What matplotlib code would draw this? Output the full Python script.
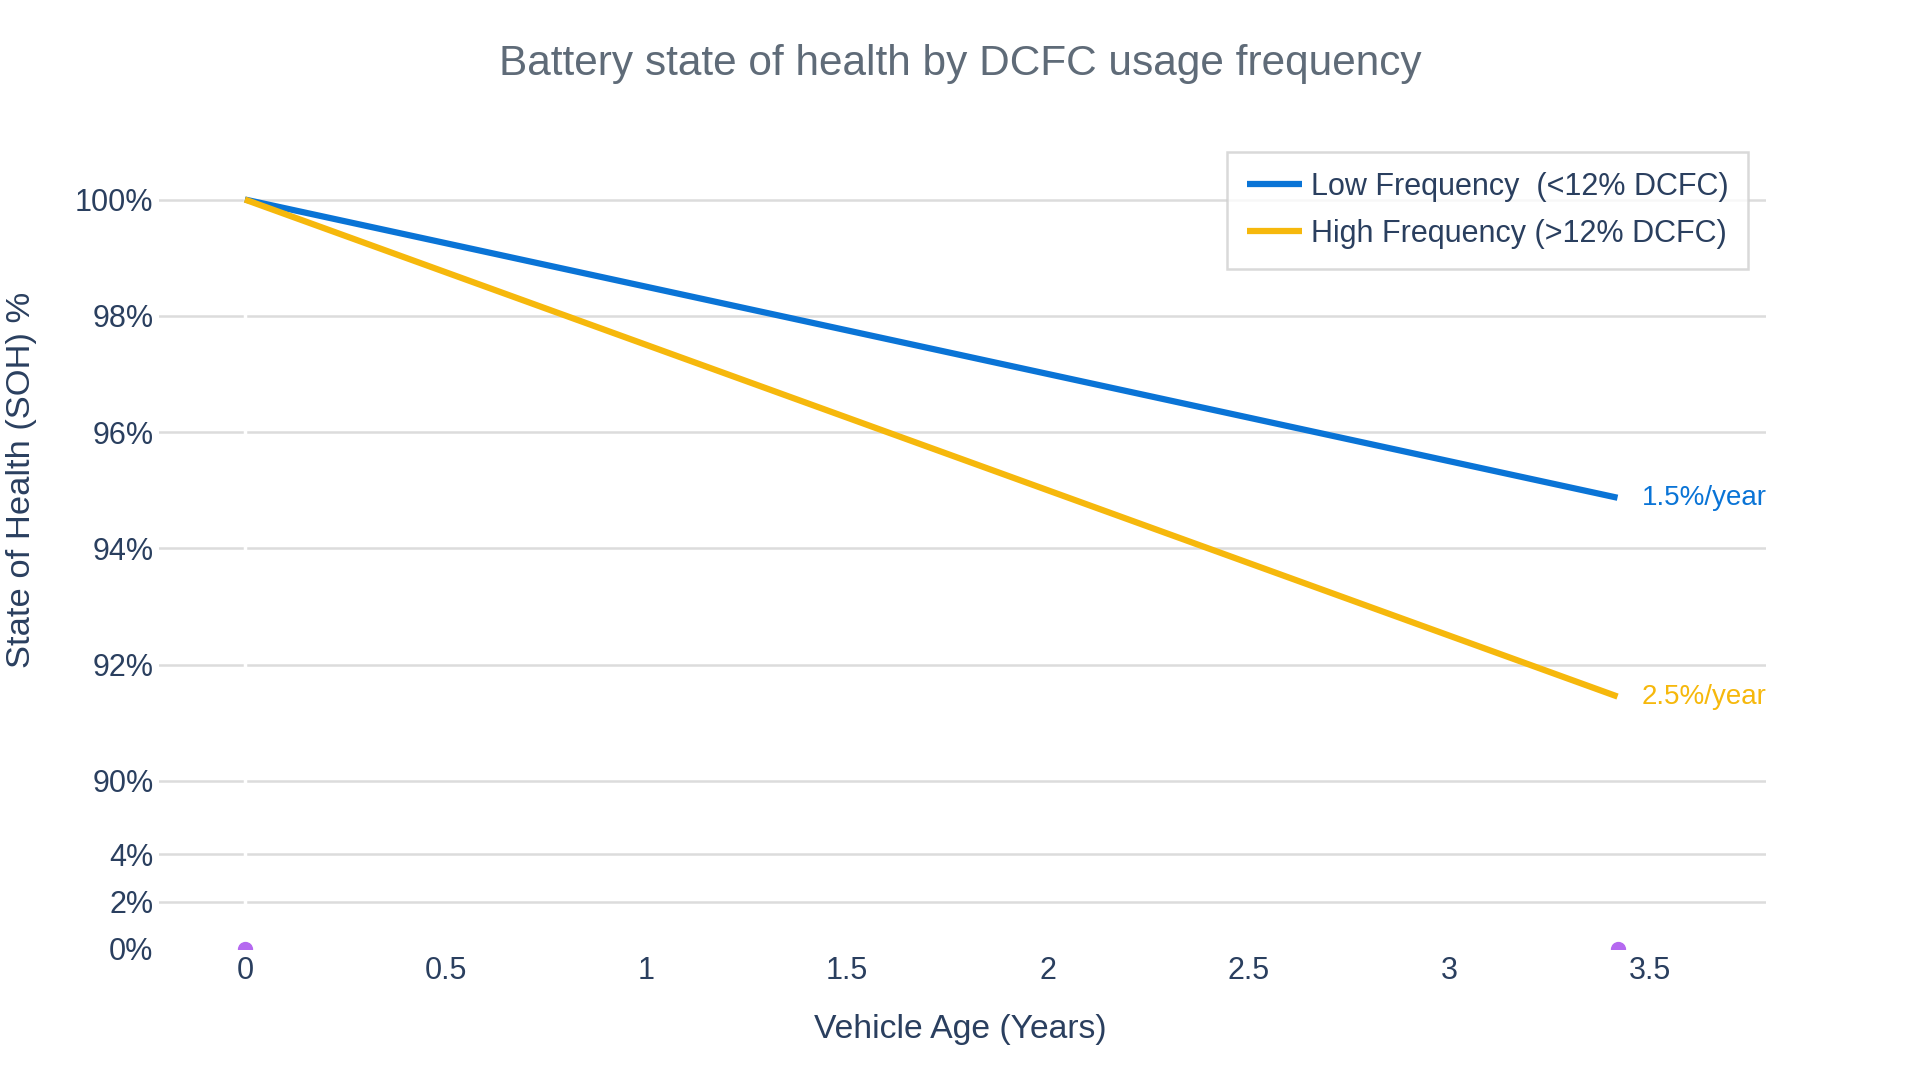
import matplotlib
matplotlib.use('Agg')
import matplotlib.pyplot as plt

plt.rcParams['font.family'] = ['Liberation Sans', 'DejaVu Sans']

# data
years = [0, 3.42]
low_freq = [100, 94.87]
high_freq = [100, 91.45]
marker_x = [0, 3.42]
marker_y = [0, 0]

labels = ['Low Frequency  (<12% DCFC)', 'High Frequency (>12% DCFC)']
rate_labels = ['1.5%/year', '2.5%/year']
upper_ticks = [90, 92, 94, 96, 98, 100]
lower_ticks = [0, 2, 4]
x_ticks = [0, 0.5, 1, 1.5, 2, 2.5, 3, 3.5]

BLUE = '#0a74d6'
YELLOW = '#f6b80c'
TEXT = '#2a3f5f'
GRID = '#dcdcdc'

fig = plt.figure(figsize=(19.2, 10.8), dpi=100)
ax_top = fig.add_axes([0.0828, 0.2657, 0.837, 0.598])
ax_bot = fig.add_axes([0.0828, 0.1213, 0.837, 0.107])

for ax in (ax_top, ax_bot):
    for s in ax.spines.values():
        s.set_visible(False)
    ax.set_xlim(-0.214, 3.79)
    ax.grid(axis='y', color=GRID, linewidth=1.8)
    ax.grid(axis='x', visible=False)
    ax.set_axisbelow(True)
    ax.axvline(0, color='white', linewidth=2.5, zorder=1)
    ax.tick_params(axis='both', length=0, labelsize=22, labelcolor=TEXT, pad=4)

ax_top.set_ylim(89.79, 100.9)
ax_top.set_yticks(upper_ticks)
ax_top.set_yticklabels(['{}%'.format(t) for t in upper_ticks])
ax_top.set_xticks([])

ax_bot.set_ylim(0, 4.87)
ax_bot.set_yticks(lower_ticks)
ax_bot.set_yticklabels(['{}%'.format(t) for t in lower_ticks])
ax_bot.set_xticks(x_ticks)
ax_bot.set_xticklabels(['{:g}'.format(t) for t in x_ticks])
ax_bot.tick_params(axis='x', pad=5)
# no gridline at the 0% baseline
ax_bot.yaxis.get_gridlines()[0].set_visible(False)

l1, = ax_top.plot(years, low_freq, color=BLUE, linewidth=4.5, solid_capstyle='butt', label=labels[0], zorder=3)
l2, = ax_top.plot(years, high_freq, color=YELLOW, linewidth=4.5, solid_capstyle='butt', label=labels[1], zorder=4)

ax_top.text(years[-1] + 0.06, low_freq[-1], rate_labels[0], color=BLUE, fontsize=20,
            va='center', ha='left', clip_on=False)
ax_top.text(years[-1] + 0.06, high_freq[-1], rate_labels[1], color=YELLOW, fontsize=20,
            va='center', ha='left', clip_on=False)

ax_bot.scatter(marker_x, marker_y, s=100, color='#b569f0', zorder=5, clip_on=True)

leg = ax_top.legend(handles=[l1, l2], loc='upper right', bbox_to_anchor=(0.9965, 1.011),
                    fontsize=22, frameon=True, fancybox=False, handlelength=1.8,
                    handletextpad=0.3, borderpad=0.65, borderaxespad=0.4, labelspacing=0.55,
                    labelcolor=TEXT)
leg.get_frame().set_edgecolor('#d0d0d0')
leg.get_frame().set_linewidth(1.8)

fig.text(0.5, 0.941, 'Battery state of health by DCFC usage frequency',
         ha='center', va='center', fontsize=30.5, color='#5f6b78')
fig.text(0.5, 0.047, 'Vehicle Age (Years)', ha='center', va='center', fontsize=24.3, color=TEXT)
fig.text(0.011, 0.556, 'State of Health (SOH) %', ha='center', va='center',
         rotation=90, fontsize=24.8, color=TEXT)

fig.savefig('out.png', dpi=100, facecolor='white')
